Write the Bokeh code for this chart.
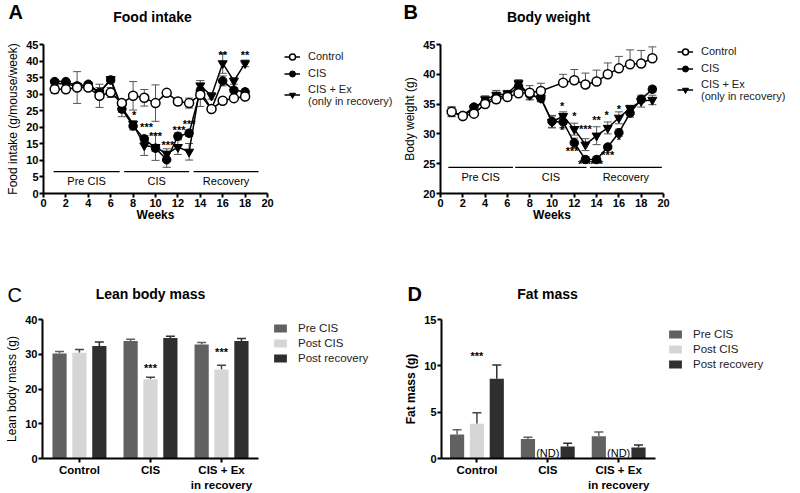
from bokeh.plotting import figure
from bokeh.models import (Range1d, FixedTicker, Whisker, TeeHead, Label, Legend,
                          LegendItem, ColumnDataSource, LinearAxis)
from bokeh.layouts import row, column
from bokeh.core.properties import value
from bokeh.embed import file_html
from bokeh.resources import INLINE

FONT = "Liberation Sans"

# ---------------- Panel A: Food intake ----------------
weeks_a = [1, 2, 3, 4, 5, 6, 7, 8, 9, 10, 11, 12, 13, 14, 15, 16, 17, 18]
food_control = [31.5, 31.5, 32.0, 32.0, 29.5, 30.5, 27.3, 29.5, 28.9, 27.3, 30.4, 27.8, 27.3, 29.8, 25.5, 28.0, 28.8, 29.3]
food_control_err = [1.2, 1.0, 4.8, 0.8, 3.5, 1.5, 0.5, 4.3, 2.5, 5.5, 0.6, 1.0, 1.5, 3.5, 0.5, 0.8, 0.5, 0.5]
food_cis = [33.8, 33.8, 32.5, 33.0, 30.5, 34.3, 25.5, 20.4, 16.5, 13.7, 10.2, 17.3, 18.2, 31.0, 25.5, 34.0, 31.2, 30.7]
food_cis_err = [0.6, 0.6, 0.8, 0.6, 1.0, 0.8, 2.3, 1.2, 1.0, 1.0, 2.3, 1.0, 1.0, 1.0, 0.6, 1.5, 0.8, 0.8]
food_ex = [33.3, 33.0, 32.5, 32.5, 30.5, 34.5, 26.0, 21.0, 14.5, 14.0, 12.0, 14.0, 12.6, 32.6, 29.5, 39.3, 34.0, 39.3]
food_ex_err = [0.6, 0.6, 0.8, 0.6, 1.5, 0.8, 1.5, 1.0, 3.0, 4.0, 1.5, 2.2, 2.5, 1.5, 1.0, 3.0, 1.0, 1.0]
food_star_x = [8.1, 9.2, 10.0, 11.1, 12.1, 13.0, 16.0, 18.0]
food_star_y = [23.8, 20.0, 17.3, 14.7, 19.2, 21.0, 41.8, 41.8]
food_star_txt = ["*", "***", "***", "***", "***", "***", "**", "**"]
food_groups = ["Pre CIS", "CIS", "Recovery"]
food_group_start = [0.9, 7.2, 13.4]
food_group_end = [6.8, 13.0, 19.2]

# ---------------- Panel B: Body weight ----------------
weeks_b_control = [1, 2, 3, 4, 5, 6, 7, 8, 9, 11, 12, 13, 14, 15, 16, 17, 18, 19]
bw_control = [33.7, 33.0, 33.4, 35.0, 35.8, 36.2, 36.8, 36.9, 37.2, 38.6, 39.0, 38.3, 38.8, 40.0, 41.0, 41.7, 41.8, 42.7]
bw_control_err = [0.8, 0.3, 0.5, 0.8, 0.8, 0.5, 0.8, 1.2, 1.3, 1.4, 1.8, 1.9, 1.9, 1.9, 2.0, 2.4, 2.2, 1.9]
weeks_b = [1, 2, 3, 4, 5, 6, 7, 8, 9, 10, 11, 12, 13, 14, 15, 16, 17, 18, 19]
bw_cis = [33.7, 33.1, 34.5, 35.3, 36.2, 36.4, 38.0, 36.6, 36.0, 32.1, 32.0, 28.5, 25.7, 25.7, 27.8, 30.2, 33.5, 35.8, 37.5]
bw_cis_err = [0.8, 0.3, 0.4, 0.8, 1.0, 0.5, 0.6, 0.8, 0.6, 1.0, 1.0, 0.8, 0.5, 0.5, 0.3, 0.6, 0.7, 0.5, 0.5]
bw_ex = [33.7, 33.0, 34.3, 35.8, 36.5, 36.8, 38.5, 36.5, 36.0, 32.0, 33.0, 30.8, 28.2, 29.7, 31.0, 32.7, 34.3, 35.5, 35.7]
bw_ex_err = [0.8, 0.3, 0.4, 0.6, 0.8, 0.5, 0.6, 0.8, 0.6, 1.0, 0.7, 1.0, 1.0, 1.5, 1.0, 1.0, 0.5, 1.0, 0.8]
bw_star_x = [10.9, 10.9, 12.0, 13.0, 11.8, 12.9, 14.0, 14.0, 14.9, 16.0, 15.0, 16.0]
bw_star_y = [34.7, 30.7, 33.0, 30.9, 27.1, 25.0, 25.0, 32.4, 33.2, 34.2, 26.5, 29.0]
bw_star_txt = ["*", "*", "*", "***", "***", "***", "***", "**", "*", "*", "***", "*"]
bw_groups = ["Pre CIS", "CIS", "Recovery"]
bw_group_start = [0.7, 6.7, 13.4]
bw_group_end = [6.5, 13.1, 19.85]

# ---------------- Panels C/D: bars ----------------
bar_groups = ["Control", "CIS", "CIS + Ex"]
bar_groups_line2 = ["", "", "in recovery"]
bar_series = ["Pre CIS", "Post CIS", "Post recovery"]
bar_colors = ["#616161", "#d6d6d6", "#2f2f2f"]
lean_pre = [30.2, 33.8, 32.8]
lean_pre_err = [0.6, 0.5, 0.6]
lean_post = [30.4, 22.8, 25.6]
lean_post_err = [1.0, 0.6, 1.2]
lean_rec = [32.4, 34.7, 33.8]
lean_rec_err = [1.1, 0.5, 0.7]
lean_star_txt = ["", "***", "***"]
lean_star_y = [0, 25.9, 30.6]

fat_pre = [2.6, 2.1, 2.4]
fat_pre_err = [0.5, 0.2, 0.45]
fat_post = [3.75, 0.0, 0.0]
fat_post_err = [1.2, 0.0, 0.0]
fat_rec = [8.6, 1.3, 1.2]
fat_rec_err = [1.5, 0.35, 0.25]
fat_star_txt = ["***", "", ""]
fat_star_y = [11.1, 0, 0]
fat_nd_txt = ["", "(ND)", "(ND)"]
fat_nd_y = 0.6


def style(p, ylabel, ybold=False):
    p.outline_line_color = None
    p.xgrid.visible = False
    p.ygrid.visible = False
    p.background_fill_color = "white"
    p.border_fill_color = "white"
    for ax in (p.xaxis[0], p.yaxis[0]):
        ax.axis_line_width = 2
        ax.axis_line_color = "black"
        ax.major_tick_line_width = 2
        ax.major_tick_line_color = "black"
        ax.major_tick_out = 4
        ax.major_tick_in = 0
        ax.minor_tick_line_color = None
        ax.major_label_text_font = FONT
        ax.major_label_text_font_size = "11px"
        ax.major_label_text_font_style = "bold"
        ax.major_label_text_color = "black"
        ax.major_label_standoff = 1
        ax.axis_label_standoff = 3
        ax.axis_label_text_font = FONT
        ax.axis_label_text_font_size = "12px"
        ax.axis_label_text_color = "black"
    p.yaxis[0].axis_label = ylabel
    p.yaxis[0].axis_label_text_font_style = "bold" if ybold else "normal"


def text_axis(p, ticks, labels, bounds, size, standoff):
    """An extra bottom axis without line/ticks that only carries text labels."""
    ax = LinearAxis(ticker=FixedTicker(ticks=ticks),
                    major_label_overrides={t: s for t, s in zip(ticks, labels)},
                    axis_line_color=None, major_tick_line_color=None, minor_tick_line_color=None,
                    major_tick_out=0, major_tick_in=0, minor_tick_out=0,
                    major_label_standoff=standoff, major_label_text_font=FONT,
                    major_label_text_font_size=size, major_label_text_font_style="bold",
                    major_label_text_color="black", bounds=bounds)
    p.add_layout(ax, "below")


def header(width, height, letter, lx, ly, title, tx, ty, letter_bold=True):
    h = figure(width=width, height=height, x_range=Range1d(0, width), y_range=Range1d(0, height),
               min_border=0, x_axis_location=None, y_axis_location=None,
               output_backend="svg", toolbar_location=None, title=None)
    h.grid.visible = False
    h.outline_line_color = None
    h.background_fill_color = "white"
    h.border_fill_color = "white"
    h.add_layout(Label(x=lx, y=ly, x_units="screen", y_units="screen", text=letter,
                       text_font=FONT, text_font_size="20px",
                       text_font_style="bold" if letter_bold else "normal",
                       text_align="left", text_baseline="middle", text_color="black"))
    h.add_layout(Label(x=tx, y=ty, x_units="screen", y_units="screen", text=title,
                       text_font=FONT, text_font_size="14px", text_font_style="bold",
                       text_align="center", text_baseline="middle", text_color="black"))
    return h


def line_panel(p, xc, yc, ec, xs, ys1, es1, ys2, es2, up_only_control):
    for xv, yv, ev, up in ((xc, yc, ec, up_only_control), (xs, ys1, es1, False), (xs, ys2, es2, False)):
        src = ColumnDataSource(dict(x=xv, upper=[a + b for a, b in zip(yv, ev)],
                                    lower=(list(yv) if up else [a - b for a, b in zip(yv, ev)])))
        w = Whisker(base="x", upper="upper", lower="lower", source=src, dimension="height",
                    line_color="#555555", line_width=1,
                    upper_head=TeeHead(size=8, line_color="#555555", line_width=1),
                    lower_head=TeeHead(size=8 if not up else 0.1, line_color="#555555", line_width=1))
        w.level = "underlay"
        p.add_layout(w)
    l_ex = p.line(xs, ys2, line_color="black", line_width=1.5)
    m_ex = p.scatter(xs, ys2, marker="inverted_triangle", size=9, fill_color="black", line_color="black")
    l_cis = p.line(xs, ys1, line_color="black", line_width=1.5)
    m_cis = p.scatter(xs, ys1, marker="circle", size=8.5, fill_color="black", line_color="black")
    l_c = p.line(xc, yc, line_color="black", line_width=1.5)
    m_c = p.scatter(xc, yc, marker="circle", size=9, fill_color="white", line_color="black", line_width=1.5)
    return (l_c, m_c), (l_cis, m_cis), (l_ex, m_ex)


def add_line_legend(p, rs, vx, vy):
    lg = Legend(items=[LegendItem(label="Control", renderers=list(rs[0])),
                       LegendItem(label="CIS", renderers=list(rs[1])),
                       LegendItem(label="CIS + Ex\n(only in recovery)", renderers=list(rs[2]))],
                location=(vx, vy), border_line_alpha=0, background_fill_alpha=0,
                label_text_font=FONT, label_text_font_size="11px", label_text_color="#222222",
                glyph_width=16, glyph_height=15, label_height=15, spacing=2,
                padding=0, margin=0, label_standoff=8)
    p.add_layout(lg)


def text_glyphs(p, xs, ys, txt, size="11px", bold=False):
    p.text(x=xs, y=ys, text=txt, text_font=value(FONT), text_font_size=size, text_color="black",
           text_font_style="bold" if bold else "normal",
           text_align="center", text_baseline="middle")


common_fig = dict(output_backend="svg", toolbar_location=None, title=None)

# ---- A ----
hA = header(400, 36, "A", 8, 24.5, "Food intake", 152, 20)
pA = figure(width=400, height=210, x_range=Range1d(0, 31.875), y_range=Range1d(0, 45),
            min_border_left=43, min_border_right=0, min_border_top=8, min_border_bottom=53,
            **common_fig)
style(pA, "Food intake (g/mouse/week)")
pA.xaxis[0].bounds = (0, 20)
pA.xaxis[0].ticker = FixedTicker(ticks=list(range(0, 21, 2)))
pA.yaxis[0].ticker = FixedTicker(ticks=list(range(0, 46, 5)))
text_axis(pA, [10], ["Weeks"], (0, 20), "12px", -2)
rsA = line_panel(pA, weeks_a, food_control, food_control_err, weeks_a, food_cis, food_cis_err,
                 food_ex, food_ex_err, False)
pA.segment(x0=food_group_start, x1=food_group_end, y0=[6.6] * 3, y1=[6.6] * 3,
           line_color="black", line_width=1.2)
text_glyphs(pA, [(a + b) / 2 for a, b in zip(food_group_start, food_group_end)], [3.8] * 3, food_groups)
text_glyphs(pA, food_star_x, food_star_y, food_star_txt, bold=True)
add_line_legend(pA, rsA, 241, 86.5)

# ---- B ----
hB = header(400, 36, "B", 3, 24.5, "Body weight", 148, 20)
pB = figure(width=400, height=210, x_range=Range1d(0, 32.287), y_range=Range1d(20, 45),
            min_border_left=40, min_border_right=0, min_border_top=6, min_border_bottom=53,
            **common_fig)
style(pB, "Body weight (g)")
pB.xaxis[0].bounds = (0, 20)
pB.xaxis[0].ticker = FixedTicker(ticks=list(range(0, 21, 2)))
pB.yaxis[0].ticker = FixedTicker(ticks=list(range(20, 46, 5)))
text_axis(pB, [10], ["Weeks"], (0, 20), "12px", -2)
rsB = line_panel(pB, weeks_b_control, bw_control, bw_control_err, weeks_b, bw_cis, bw_cis_err,
                 bw_ex, bw_ex_err, True)
pB.segment(x0=bw_group_start, x1=bw_group_end, y0=[24.4] * 3, y1=[24.4] * 3,
           line_color="black", line_width=1.2)
text_glyphs(pB, [(a + b) / 2 for a, b in zip(bw_group_start, bw_group_end)], [22.8] * 3, bw_groups)
text_glyphs(pB, bw_star_x, bw_star_y, bw_star_txt, bold=True)
add_line_legend(pB, rsB, 237, 91.5)


# ---- bar panels ----
def bar_panel(p, series, errs, star_txt, star_y, vx, vy, bounds, nd_txt=None, nd_y=0):
    offs = [-0.28, 0.0, 0.28]
    centers = [1, 2, 3]
    items = []
    for k, (vals, ev) in enumerate(zip(series, errs)):
        xs = [c + offs[k] for c in centers]
        r = p.vbar(x=xs, top=vals, width=0.2, fill_color=bar_colors[k], line_color=None)
        items.append(LegendItem(label=bar_series[k], renderers=[r]))
        keep = [i for i in range(3) if ev[i] > 0]
        col = "#444444" if k == 1 else bar_colors[k]
        src = ColumnDataSource(dict(x=[xs[i] for i in keep], lower=[vals[i] for i in keep],
                                    upper=[vals[i] + ev[i] for i in keep]))
        w = Whisker(base="x", upper="upper", lower="lower", source=src, dimension="height",
                    line_color=col, line_width=1.5,
                    upper_head=TeeHead(size=9, line_color=col, line_width=1.5),
                    lower_head=TeeHead(size=0.1, line_color=col, line_alpha=0))
        p.add_layout(w)
    text_glyphs(p, [centers[i] for i in range(3) if star_txt[i]],
                [star_y[i] for i in range(3) if star_txt[i]], [t for t in star_txt if t], bold=True)
    if nd_txt:
        nx = [centers[i] for i in range(3) if nd_txt[i]]
        text_glyphs(p, nx, [nd_y] * len(nx), [t for t in nd_txt if t])
    p.xaxis[0].bounds = bounds
    p.xaxis[0].ticker = FixedTicker(ticks=centers)
    p.xaxis[0].major_label_overrides = {c: g for c, g in zip(centers, bar_groups)}
    p.xaxis[0].major_label_text_font_size = "11.5px"
    l2 = [(c, s) for c, s in zip(centers, bar_groups_line2) if s]
    text_axis(p, [c for c, _ in l2], [s for _, s in l2], bounds, "11.5px", 0)
    lg = Legend(items=items, location=(vx, vy), border_line_alpha=0, background_fill_alpha=0,
                label_text_font=FONT, label_text_font_size="11.5px", label_text_color="#222222",
                glyph_width=16, glyph_height=10, label_height=15, spacing=0,
                padding=0, margin=0, label_standoff=10)
    p.add_layout(lg)


hC = header(400, 59, "C", 7, 11, "Lean body mass", 150, 12, letter_bold=False)
pC = figure(width=400, height=188, x_range=Range1d(0.48, 5.519), y_range=Range1d(0, 40),
            min_border_left=42, min_border_right=0, min_border_top=14, min_border_bottom=32,
            **common_fig)
style(pC, "Lean body mass (g)")
pC.yaxis[0].ticker = FixedTicker(ticks=[0, 10, 20, 30, 40])
bar_panel(pC, [lean_pre, lean_post, lean_rec], [lean_pre_err, lean_post_err, lean_rec_err],
          lean_star_txt, lean_star_y, 230, 93, (0.48, 3.52))

hD = header(400, 59, "D", 7, 12, "Fat mass", 147, 12)
pD = figure(width=400, height=188, x_range=Range1d(0.5, 5.566), y_range=Range1d(0, 15),
            min_border_left=41, min_border_right=0, min_border_top=14, min_border_bottom=32,
            **common_fig)
style(pD, "Fat mass (g)", ybold=True)
pD.yaxis[0].ticker = FixedTicker(ticks=[0, 5, 10, 15])
bar_panel(pD, [fat_pre, fat_post, fat_rec], [fat_pre_err, fat_post_err, fat_rec_err],
          fat_star_txt, fat_star_y, 226, 87, (0.5, 3.52), fat_nd_txt, fat_nd_y)

layout = column(row(hA, hB, spacing=0), row(pA, pB, spacing=0),
                row(hC, hD, spacing=0), row(pC, pD, spacing=0), spacing=0)

with open("out.html", "w") as f:
    f.write(file_html(layout, INLINE))
